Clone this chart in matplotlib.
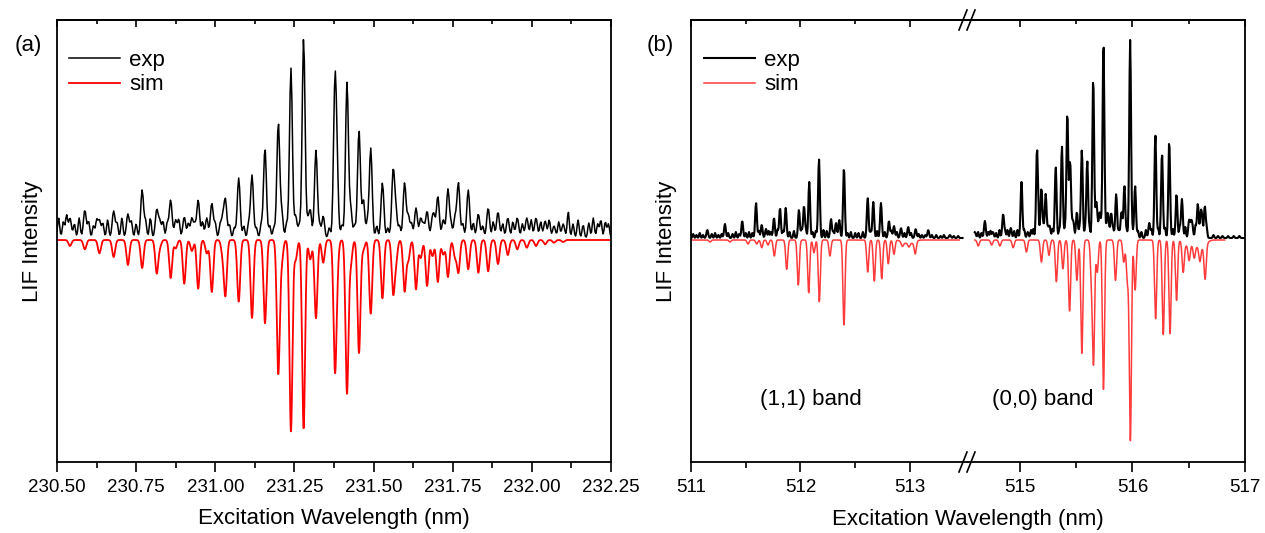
import numpy as np
import matplotlib
matplotlib.use("Agg")
import matplotlib.pyplot as plt
from matplotlib.lines import Line2D
from matplotlib.ticker import FixedLocator, MultipleLocator

plt.rcParams['font.family'] = ['Liberation Sans', 'DejaVu Sans']

# ---------------- Panel (a) data (nm, arbitrary intensity) ----------------
a_main_pos = [230.541, 230.588, 230.634, 230.679, 230.724, 230.769, 230.815, 230.859, 230.902,
              230.946, 230.989, 231.032, 231.074, 231.116, 231.157, 231.199, 231.239, 231.279,
              231.318, 231.378, 231.416, 231.454, 231.491, 231.528, 231.562, 231.598, 231.634,
              231.669, 231.703, 231.735, 231.768, 231.799, 231.831, 231.862, 231.893, 231.924,
              231.954, 231.984, 232.013, 232.042, 232.070, 232.099]
a_sim_main_depth = [6, 9.3, 13.3, 17, 25, 28, 33, 38, 43.7, 48.7, 52, 54.3, 61.7, 78, 83.3, 133,
                    191.3, 188.3, 78.3, 125.3, 153, 113, 73.7, 58.3, 51.7, 51, 49.3, 46, 42, 37,
                    32, 29.3, 32.7, 31.3, 24, 15, 9.3, 7.7, 6, 4.3, 2.7, 2]
a_exp_main_height = [20, 28, 18, 27, 24, 48, 28, 38, 21, 38, 35, 38, 60, 63, 90, 115, 170, 200,
                     88, 152, 156, 108, 90, 55, 68, 55, 30, 27, 42, 49, 55, 48, 24, 30, 26, 20,
                     20, 20, 20, 17, 12, 14]
a_sec_pos = [230.825, 230.875, 230.926, 230.973, 231.023, 231.210, 231.254, 231.300, 231.341,
             231.385, 231.428, 231.468, 231.571, 231.610, 231.649, 231.686, 231.720, 231.757]
a_sim_sec_depth = [6, 8.3, 11, 13.3, 12.7, 19.3, 19.3, 19.3, 22.7, 22.7, 22.7, 9.3, 19.3, 19.3,
                   17.7, 16, 14.3, 16]
a_exp_sec_height = [16, 18, 20, 20, 18, 24, 22, 28, 22, 52, 28, 38, 24, 22, 20, 20, 18, 20]
a_exp_minor_pos = [230.505, 230.520, 230.530, 230.555, 230.570, 230.600, 230.615, 230.625,
                   230.645, 230.660, 230.690, 230.705, 230.735, 230.750, 230.780, 230.795,
                   230.835, 230.848, 230.885, 230.915, 230.935, 230.960, 231.000, 231.015,
                   231.045, 231.060, 231.090, 231.105, 231.130, 231.145, 231.172, 231.185,
                   231.225, 231.265, 231.292, 231.330, 231.360, 231.400, 231.440, 231.480,
                   231.510, 231.545, 231.582, 231.620, 231.658, 231.692, 231.745, 231.782,
                   231.815, 231.845, 231.878, 231.908, 231.940, 231.970, 231.998, 232.028,
                   232.055, 232.085, 232.115, 232.130, 232.146, 232.162, 232.180, 232.194,
                   232.208, 232.218, 232.232, 232.242]
a_exp_minor_height = [20, 16, 22, 14, 20, 16, 12, 16, 14, 18, 14, 20, 16, 14, 16, 20, 16, 14,
                      18, 14, 12, 16, 14, 12, 13, 10, 12, 14, 10, 13, 12, 10, 14, 12, 14, 12,
                      10, 13, 12, 14, 12, 10, 12, 14, 12, 14, 12, 14, 15, 12, 16, 14, 16, 14,
                      18, 16, 18, 16, 26, 14, 18, 13, 15, 20, 14, 18, 16, 14]

# ---------------- Panel (b) data ----------------
b11_exp_pos = [511.149, 511.310, 511.468, 511.594, 511.646, 511.685, 511.758, 511.813, 511.865,
               511.986, 512.032, 512.080, 512.169, 512.279, 512.324, 512.354, 512.397, 512.614,
               512.665, 512.735, 512.808, 512.854, 512.918, 512.984, 513.052, 513.167, 513.365]
b11_exp_h = [8, 14, 17, 35, 13, 9, 20, 30, 30, 28, 32, 56, 79, 19, 15, 18, 70, 40, 36, 35, 17,
             12, 10, 11, 9, 8, 3]
b11_sim_pos = [511.174, 511.356, 511.521, 511.600, 511.646, 511.703, 511.761, 511.874, 511.980,
               512.075, 512.123, 512.172, 512.269, 512.397, 512.614, 512.674, 512.742, 512.802,
               512.854, 512.930, 512.990, 513.048]
b11_sim_d = [2, 2, 4, 4, 7.7, 5, 16, 29.3, 45, 52.7, 12.7, 61.7, 16, 85, 32, 41, 38.7, 23.7,
             14.3, 4, 4, 12]
b00_exp_pos = [514.602, 514.690, 514.761, 514.852, 514.920, 515.015, 515.071, 515.153, 515.192,
               515.230, 515.265, 515.319, 515.374, 515.422, 515.447, 515.469, 515.507, 515.551,
               515.599, 515.652, 515.679, 515.708, 515.743, 515.779, 515.812, 515.856, 515.903,
               515.929, 515.980, 516.024, 516.150, 516.204, 516.263, 516.327, 516.392, 516.440,
               516.504, 516.531, 516.581, 516.608, 516.643]
b00_exp_h = [6, 17, 6, 24, 10, 56, 6, 90, 50, 44, 12, 71, 92, 125, 76, 15, 26, 88, 77, 160, 34,
             24, 196, 23, 25, 44, 26, 52, 198, 52, 15, 103, 85, 97, 44, 39, 18, 14, 34, 26, 32]
b00_sim_pos = [514.631, 514.750, 514.823, 514.941, 515.059, 515.192, 515.259, 515.325, 515.383,
               515.442, 515.507, 515.551, 515.636, 515.655, 515.688, 515.743, 515.850, 515.923,
               515.955, 515.982, 516.024, 516.206, 516.274, 516.334, 516.392, 516.451, 516.504,
               516.549, 516.599, 516.646]
b00_sim_d = [6, 5, 6, 7.7, 12, 22, 15.3, 41.7, 28.7, 71, 40.3, 113.3, 35, 120, 32, 149.3, 40.3,
             22, 40, 200, 50, 78.7, 94.7, 93.7, 60.3, 29.3, 16, 12, 15, 33]
b_sim_broad_pos = [512.950, 513.020, 516.480, 516.560, 516.630]
b_sim_broad_d = [3, 3, 5, 6, 7]
b_exp_minor_pos = [511.02, 511.05, 511.08, 511.11, 511.19, 511.22, 511.25, 511.28, 511.34,
                   511.38, 511.41, 511.44, 511.50, 511.53, 511.56, 511.62, 511.71, 511.73,
                   511.79, 511.84, 511.90, 511.94, 512.01, 512.05, 512.11, 512.14, 512.21,
                   512.24, 512.30, 512.43, 512.46, 512.50, 512.53, 512.57, 512.64, 512.70,
                   512.77, 512.83, 512.88, 512.95, 513.01, 513.08, 513.11, 513.14, 513.20,
                   513.24, 513.28, 513.31, 513.40, 513.44,
                   514.63, 514.66, 514.72, 514.74, 514.79, 514.82, 514.87, 514.89, 514.95,
                   514.98, 515.04, 515.10, 515.12, 515.17, 515.21, 515.25, 515.29, 515.35,
                   515.40, 515.48, 515.53, 515.58, 515.62, 515.69, 515.72, 515.76, 515.79,
                   515.83, 515.88, 515.95, 516.00, 516.05, 516.08, 516.12, 516.17, 516.23,
                   516.29, 516.36, 516.42, 516.47, 516.52, 516.56, 516.62, 516.66, 516.72,
                   516.76, 516.80, 516.85, 516.90, 516.95]
b_exp_minor_h = [4, 3, 5, 3, 4, 5, 3, 4, 5, 4, 6, 4, 5, 6, 5, 7, 7, 6, 8, 7, 6, 7, 8, 7, 6, 7, 8,
                 7, 6, 5, 6, 5, 5, 6, 7, 7, 6, 7, 6, 5, 5, 4, 3, 3, 3, 3, 2, 3, 2, 2,
                 6, 5, 6, 7, 5, 8, 6, 8, 7, 8, 8, 8, 9, 8, 9, 8, 9, 8, 9, 8, 9, 8, 9, 8, 9,
                 8, 9, 8, 8, 7, 6, 7, 6, 8, 8, 9, 10, 9, 10, 11, 10, 12, 13, 9, 3, 2, 2, 2,
                 2, 2]

xticks_a = [230.50, 230.75, 231.00, 231.25, 231.50, 231.75, 232.00, 232.25]
xticklabels_a = ['230.50', '230.75', '231.00', '231.25', '231.50', '231.75', '232.00', '232.25']
xticks_b_left = [511, 512, 513]
xticks_b_right = [515, 516, 517]


def spectrum(x, pos, amp, sigma):
    pos = np.asarray(pos, float)
    amp = np.asarray(amp, float)
    return (amp[None, :] * np.exp(-0.5 * ((x[:, None] - pos[None, :]) / sigma) ** 2)).sum(axis=1)


W, H = 1265, 533
fig = plt.figure(figsize=(W / 100, H / 100), dpi=100)


def px_axes(x0, x1, y0=20, y1=462):
    return fig.add_axes([x0 / W, 1 - y1 / H, (x1 - x0) / W, (y1 - y0) / H])


YLIM = (-222, 220)
RED_A = '#ff0000'
RED_B = '#ff3b3b'

# ---------------- Panel (a) ----------------
axa = px_axes(57, 611)
xs = np.linspace(230.5, 232.25, 4000)
sim_a = -(spectrum(xs, a_main_pos, a_sim_main_depth, 0.0047) +
          spectrum(xs, a_sec_pos, a_sim_sec_depth, 0.0047))
xe = np.arange(230.5, 232.2501, 0.0028)
exp_a = (spectrum(xe, a_main_pos, a_exp_main_height, 0.0046) +
         spectrum(xe, a_sec_pos, a_exp_sec_height, 0.0042) +
         spectrum(xe, a_exp_minor_pos, a_exp_minor_height, 0.0034)) + 2
axa.plot(xe, exp_a, color='black', lw=1.1, label='exp')
axa.plot(xs, sim_a, color=RED_A, lw=1.3, label='sim')
axa.set_xlim(230.5, 232.25)
axa.set_ylim(*YLIM)
axa.set_yticks([])
axa.set_xticks(xticks_a)
axa.set_xticklabels(xticklabels_a)
axa.xaxis.set_minor_locator(MultipleLocator(0.125))
axa.tick_params(axis='x', which='major', direction='out', length=7, width=1.2, labelsize=13.5, pad=5)
axa.tick_params(axis='x', which='minor', direction='out', length=4, width=1.2)
seca = axa.secondary_xaxis('top')
seca.set_xticks(xticks_a)
seca.xaxis.set_minor_locator(MultipleLocator(0.125))
seca.tick_params(which='major', direction='in', length=5, width=1.2, labeltop=False)
seca.tick_params(which='minor', direction='in', length=3, width=1.2)
seca.spines['top'].set_linewidth(1.3)
for s in axa.spines.values():
    s.set_linewidth(1.3)
axa.set_xlabel('Excitation Wavelength (nm)', fontsize=16, labelpad=9)
axa.set_ylabel('LIF Intensity', fontsize=16, labelpad=10)
axa.legend(loc='upper left', bbox_to_anchor=(12 / 554, 1 - 30 / 442), frameon=False,
           fontsize=16, handlelength=2.3, handletextpad=0.4, labelspacing=0.15,
           borderaxespad=0, borderpad=0)
fig.text(28 / W, 1 - 46 / H, '(a)', fontsize=16, ha='center', va='center')

# ---------------- Panel (b) ----------------
axl = px_axes(691, 968)
axr = px_axes(968, 1245)
xl = np.linspace(511.0, 513.45, 3000)
xr = np.linspace(514.6, 516.82, 3000)
sim_l = -(spectrum(xl, b11_sim_pos, b11_sim_d, 0.0095) + spectrum(xl, b_sim_broad_pos, b_sim_broad_d, 0.03))
sim_r = -(spectrum(xr, b00_sim_pos, b00_sim_d, 0.0095) + spectrum(xr, b_sim_broad_pos, b_sim_broad_d, 0.03))
xel = np.arange(511.0, 513.48, 0.005)
xer = np.arange(514.6, 517.0001, 0.005)
exp_l = (spectrum(xel, b11_exp_pos, b11_exp_h, 0.008) +
         spectrum(xel, b_exp_minor_pos, b_exp_minor_h, 0.006)) + 2
exp_r = (spectrum(xer, b00_exp_pos, b00_exp_h, 0.008) +
         spectrum(xer, b_exp_minor_pos, b_exp_minor_h, 0.006)) + 2

axl.plot(xel, exp_l, color='black', lw=1.5, label='exp')
axl.plot(xl, sim_l, color=RED_B, lw=1.1, label='sim')
axr.plot(xer, exp_r, color='black', lw=1.5)
axr.plot(xr, sim_r, color=RED_B, lw=1.1)
axl.set_xlim(511.0, 513.53)
axr.set_xlim(514.54, 517.0)
for ax, ticks, minors in ((axl, xticks_b_left, [511.5, 512.5]), (axr, xticks_b_right, [515.5, 516.5])):
    ax.set_ylim(*YLIM)
    ax.set_yticks([])
    ax.set_xticks(ticks)
    ax.set_xticklabels([str(t) for t in ticks])
    ax.xaxis.set_minor_locator(FixedLocator(minors))
    ax.tick_params(axis='x', which='major', direction='out', length=7, width=1.2, labelsize=13.5, pad=5)
    ax.tick_params(axis='x', which='minor', direction='out', length=4, width=1.2)
    sec = ax.secondary_xaxis('top')
    sec.set_xticks(ticks)
    sec.xaxis.set_minor_locator(FixedLocator(minors))
    sec.tick_params(which='major', direction='in', length=5, width=1.2, labeltop=False)
    sec.tick_params(which='minor', direction='in', length=3, width=1.2)
    sec.spines['top'].set_linewidth(1.3)
    for s in ax.spines.values():
        s.set_linewidth(1.3)
axl.spines['right'].set_visible(False)
axr.spines['left'].set_visible(False)
axl.set_ylabel('LIF Intensity', fontsize=16, labelpad=10)
fig.text((691 + 1245) / 2 / W, 1 - 520 / H, 'Excitation Wavelength (nm)', fontsize=16,
         ha='center', va='center')
axl.legend(loc='upper left', bbox_to_anchor=(13 / 277, 1 - 30 / 442), frameon=False,
           fontsize=16, handlelength=2.3, handletextpad=0.4, labelspacing=0.15,
           borderaxespad=0, borderpad=0)
fig.text(660 / W, 1 - 46 / H, '(b)', fontsize=16, ha='center', va='center')
axl.text((811 - 691) / 277, (462 - 400) / 442, '(1,1) band', transform=axl.transAxes,
         fontsize=16, ha='center', va='center')
axr.text((1043 - 968) / 277, (462 - 400) / 442, '(0,0) band', transform=axr.transAxes,
         fontsize=16, ha='center', va='center')

# axis-break marks
for yb in (462, 20):
    for xc in (963, 971):
        fig.add_artist(Line2D([(xc - 4) / W, (xc + 4) / W], [1 - (yb + 10) / H, 1 - (yb - 10) / H],
                              transform=fig.transFigure, color='black', lw=1.2))

fig.savefig('out.png', dpi=100)
